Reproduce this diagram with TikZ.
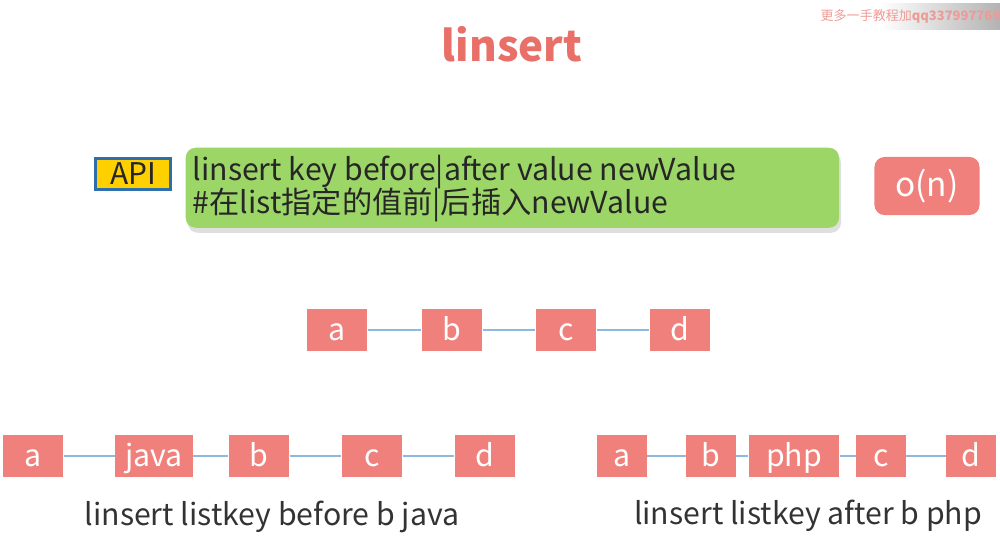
\documentclass[tikz,border=0pt]{standalone}
\usepackage{fontspec}
\setmainfont{Noto Sans CJK SC}
\usetikzlibrary{shadows}

\definecolor{boxrot}{RGB}{240,128,124}
\definecolor{linieblau}{RGB}{141,185,222}
\definecolor{apigelb}{RGB}{255,208,0}
\definecolor{apiblau}{RGB}{46,110,170}
\definecolor{cmdgruen}{RGB}{156,214,102}
\definecolor{titelrot}{RGB}{232,112,104}

\tikzset{
  elem/.style={fill=boxrot, text=white, minimum height=0.42cm, minimum width=0.6cm,
    inner sep=0pt, text height=7pt, text depth=1.3pt, font=\fontsize{8.6}{9}\selectfont},
  verb/.style={draw=linieblau, line width=0.5pt},
  unter/.style={text=black!80, font=\fontsize{8.6}{9}\selectfont},
  cmdzeile/.style={anchor=base west, inner sep=0pt, text=black!85, font=\fontsize{8.6}{9}\selectfont}
}

\begin{document}
\begin{tikzpicture}[x=0.01cm, y=-0.01cm]
    \useasboundingbox (0,0) rectangle (1000,535);
    % Wasserzeichen oben rechts:
    \begin{scope}
      \clip (0,0) rectangle (1000,535);
      \shade[left color=white, right color=black!30] (880,3) rectangle (1000,29);
      \node[anchor=west, inner sep=0pt, text=titelrot!70, font=\fontsize{3.7}{4}\selectfont] (wm) at (820,16)
        {更多一手教程加\textbf{qq337997769}};
    \end{scope}
    % Titel:
    \node[text=titelrot, font=\fontsize{12}{14}\selectfont\bfseries] (titel) at (512,44) {linsert};
    % API Zeile:
    \node[draw=apiblau, fill=apigelb, line width=1pt, minimum width=0.75cm, minimum height=0.31cm,
      inner sep=0pt, text=black!85, font=\fontsize{8.5}{9}\selectfont] (api) at (133,174) {API};
    \node[fill=cmdgruen, rounded corners=0.1cm, anchor=north west, minimum width=6.53cm, minimum height=0.8cm,
      drop shadow={shadow xshift=0.02cm, shadow yshift=-0.05cm, opacity=0.25}] (cmd) at (185,147) {};
    \node[cmdzeile] (cmd1) at (192,180) {linsert key before|after value newValue};
    \node[cmdzeile] (cmd2) at (192,213) {\#在list指定的值前|后插入newValue};
    \node[fill=boxrot, rounded corners=0.1cm, minimum width=1.05cm, minimum height=0.58cm, inner sep=0pt,
      text=white, font=\fontsize{9.5}{10}\selectfont] (aufwand) at (927,186) {o(n)};
    % Ausgangsliste:
    \node[elem] (a0) at (337,330) {a};
    \node[elem] (b0) at (452,330) {b};
    \node[elem] (c0) at (566,330) {c};
    \node[elem] (d0) at (680,330) {d};
    \draw[verb] (a0) -- (b0); \draw[verb] (b0) -- (c0); \draw[verb] (c0) -- (d0);
    % before:
    \node[elem] (a1) at (33,456) {a};
    \node[elem, minimum width=0.77cm] (java1) at (154,456) {java};
    \node[elem] (b1) at (259,456) {b};
    \node[elem] (c1) at (372,456) {c};
    \node[elem] (d1) at (485,456) {d};
    \draw[verb] (a1) -- (java1); \draw[verb] (java1) -- (b1); \draw[verb] (b1) -- (c1); \draw[verb] (c1) -- (d1);
    \node[unter] (txt1) at (272,517) {linsert listkey before b java};
    % after:
    \node[elem, minimum width=0.49cm] (a2) at (622,456) {a};
    \node[elem, minimum width=0.49cm] (b2) at (711,456) {b};
    \node[elem, minimum width=0.9cm] (php2) at (794,456) {php};
    \node[elem, minimum width=0.49cm] (c2) at (881,456) {c};
    \node[elem, minimum width=0.49cm] (d2) at (971,456) {d};
    \draw[verb] (a2) -- (b2); \draw[verb] (b2) -- (php2); \draw[verb] (php2) -- (c2); \draw[verb] (c2) -- (d2);
    \node[unter] (txt2) at (808,516) {linsert listkey after b php};
\end{tikzpicture}
\end{document}
